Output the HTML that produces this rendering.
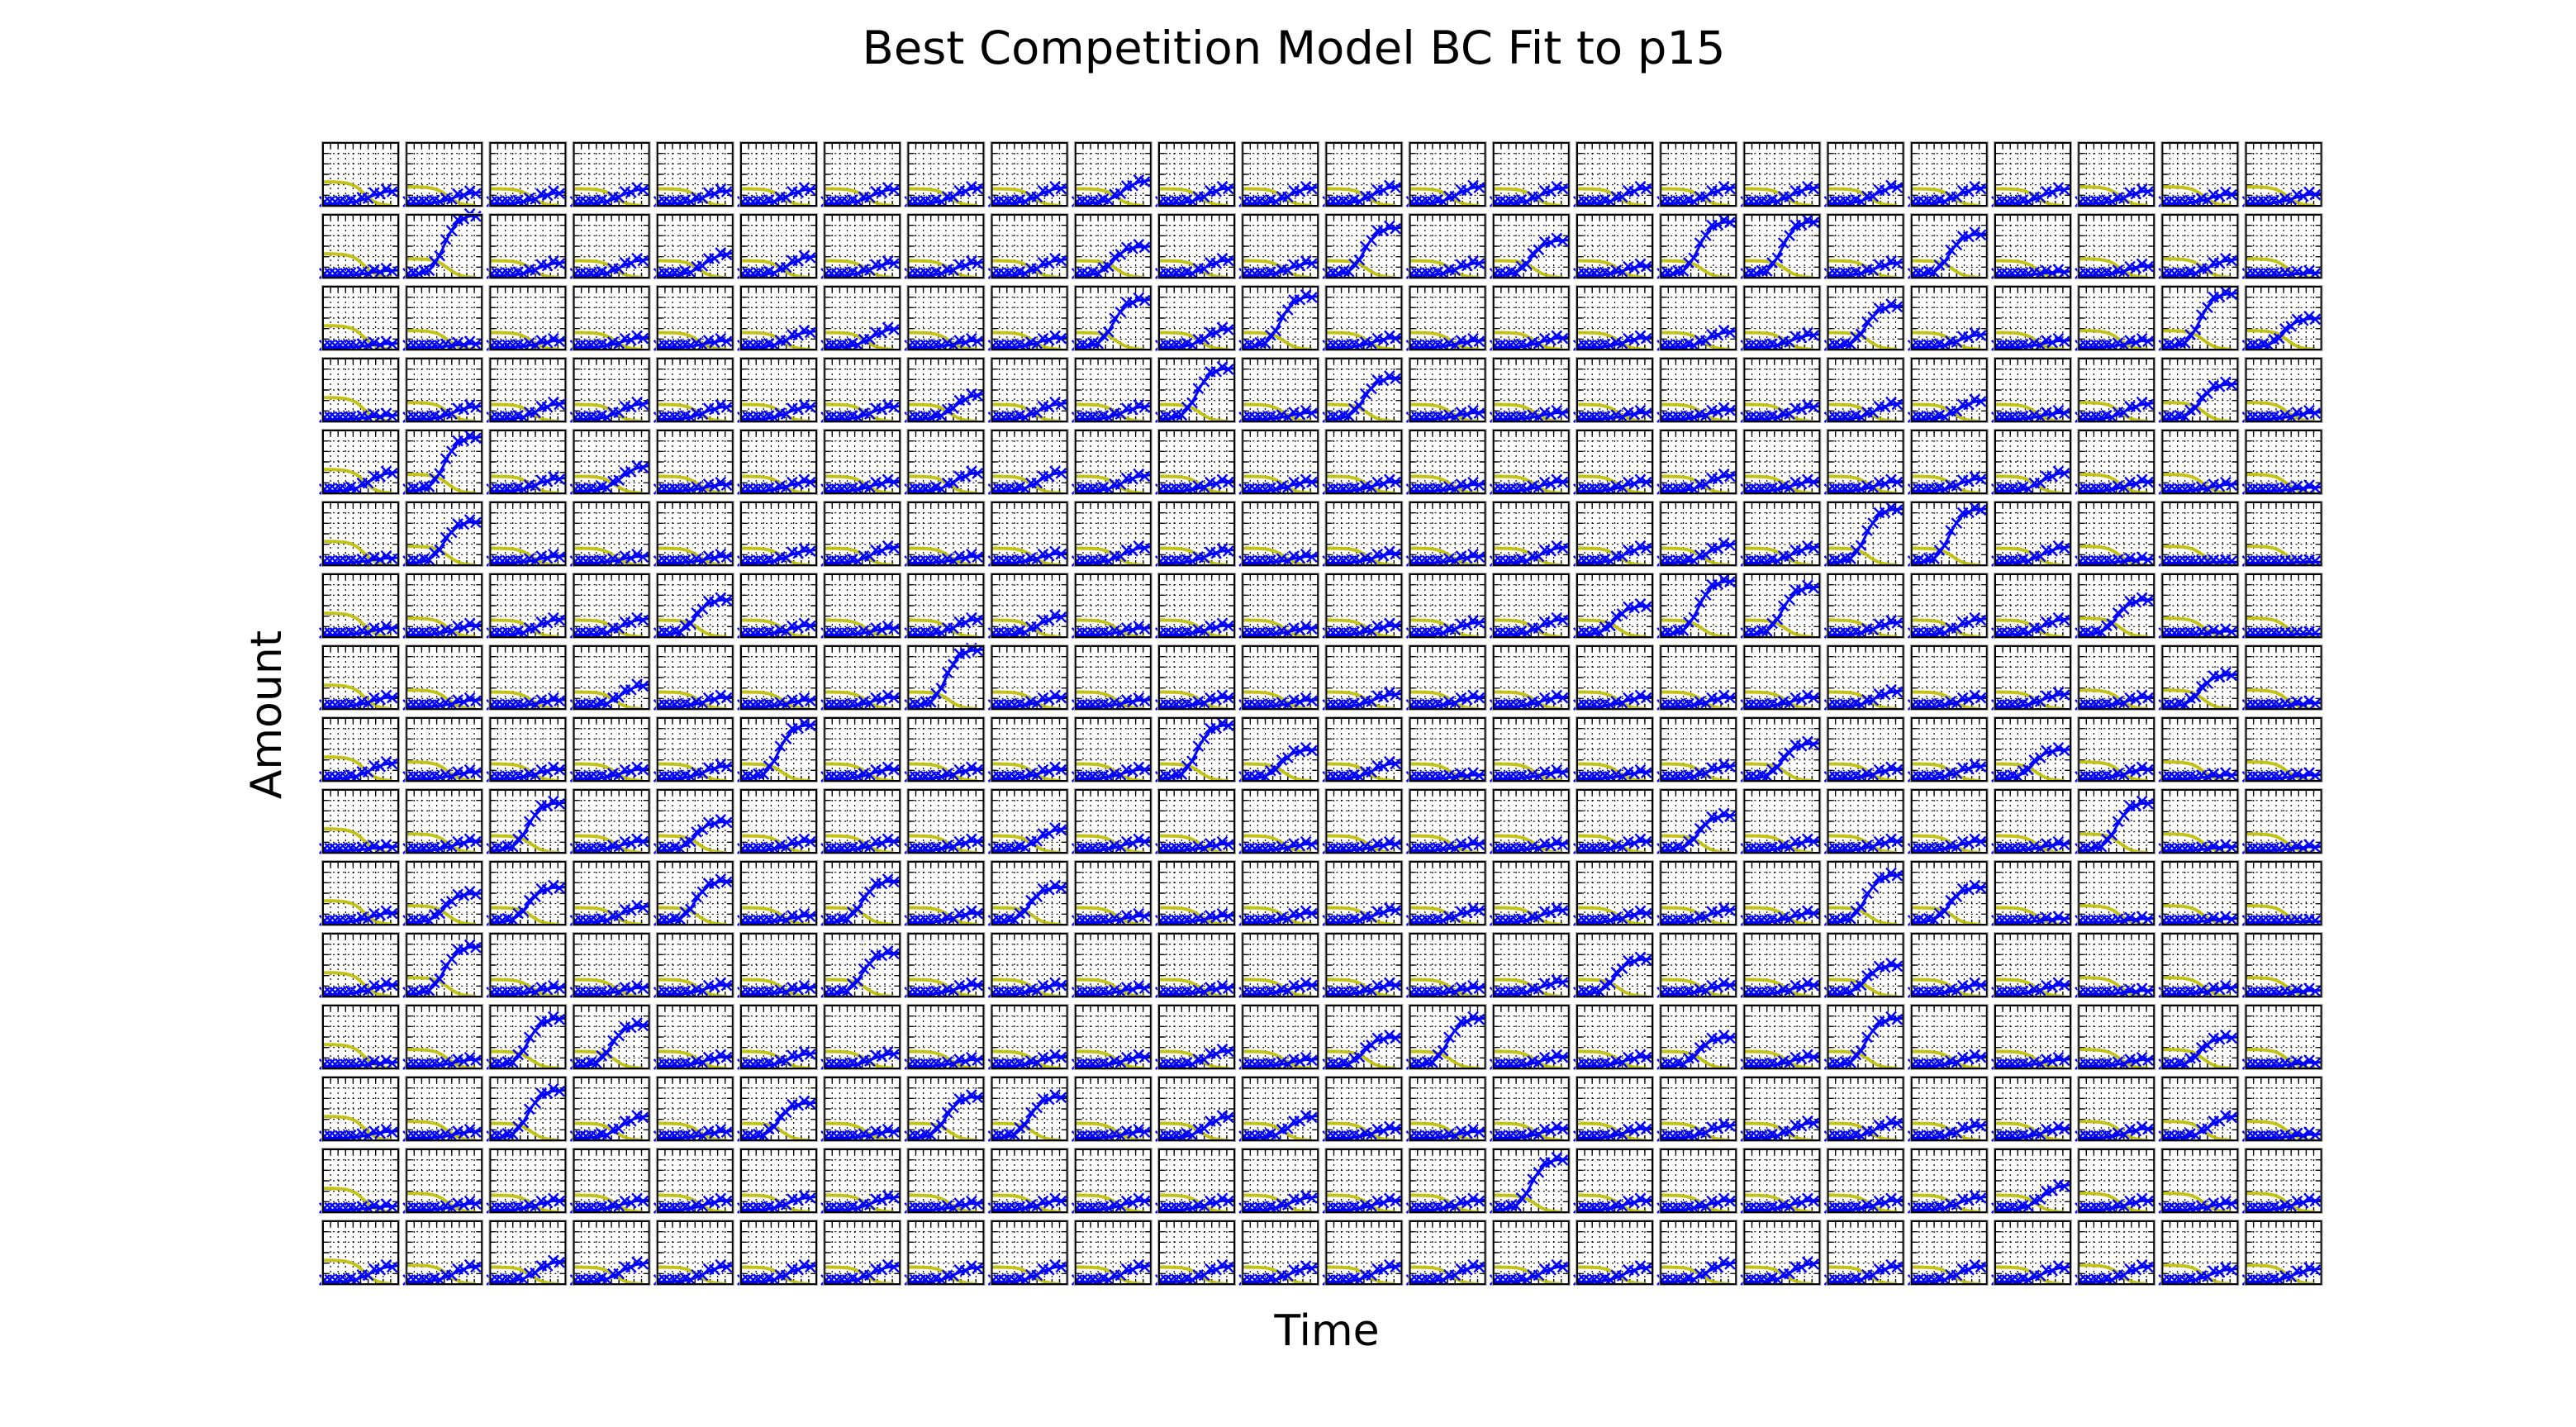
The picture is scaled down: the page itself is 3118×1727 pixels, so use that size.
<!DOCTYPE html>
<html><head><meta charset="utf-8"><style>
html,body{margin:0;padding:0;background:#fff;}
svg{display:block;}
text{font-family:"DejaVu Sans","Liberation Sans",sans-serif;fill:#000;}
</style></head><body>
<svg id="chart" width="3118" height="1727" viewBox="0 0 3118 1727" xmlns="http://www.w3.org/2000/svg">
<rect width="3118" height="1727" fill="#fff"/>
<text x="1566" y="77" font-size="55" text-anchor="middle" textLength="1045" lengthAdjust="spacingAndGlyphs">Best Competition Model BC Fit to p15</text>
<text x="0" y="0" font-size="52" text-anchor="middle" transform="translate(340,865) rotate(-90)">Amount</text>
<text x="1606" y="1628" font-size="52" text-anchor="middle">Time</text>
<g id="panels"></g>
</svg>
<script>
// Final blue amplitude per panel (fraction of y-range), rows top->bottom, 24 columns
const blueAmp = [
[0.25,0.22,0.22,0.28,0.25,0.28,0.28,0.3,0.3,0.42,0.3,0.3,0.32,0.32,0.3,0.3,0.3,0.3,0.32,0.3,0.28,0.25,0.2,0.2],
[0.12,1.0,0.25,0.3,0.4,0.35,0.25,0.25,0.3,0.5,0.3,0.25,0.8,0.25,0.6,0.2,0.9,0.9,0.25,0.7,0.1,0.2,0.3,0.08],
[0.1,0.1,0.15,0.2,0.15,0.3,0.35,0.15,0.2,0.8,0.35,0.85,0.2,0.15,0.2,0.2,0.3,0.25,0.7,0.25,0.15,0.15,0.9,0.5],
[0.1,0.25,0.3,0.3,0.25,0.25,0.25,0.45,0.3,0.25,0.85,0.15,0.7,0.15,0.15,0.15,0.2,0.25,0.3,0.35,0.15,0.3,0.6,0.15],
[0.35,0.9,0.25,0.45,0.15,0.2,0.2,0.35,0.35,0.3,0.2,0.2,0.2,0.15,0.2,0.2,0.3,0.2,0.2,0.25,0.35,0.2,0.15,0.1],
[0.12,0.7,0.15,0.15,0.15,0.25,0.3,0.15,0.2,0.3,0.25,0.15,0.2,0.15,0.3,0.3,0.35,0.3,0.9,0.9,0.3,0.1,0.05,0.05],
[0.15,0.2,0.3,0.3,0.6,0.2,0.15,0.3,0.35,0.15,0.2,0.15,0.2,0.25,0.3,0.5,0.9,0.8,0.25,0.3,0.3,0.6,0.1,0.05],
[0.2,0.15,0.15,0.4,0.2,0.15,0.2,0.95,0.2,0.15,0.2,0.15,0.25,0.2,0.2,0.2,0.2,0.2,0.3,0.2,0.25,0.2,0.55,0.1],
[0.3,0.15,0.2,0.2,0.25,0.9,0.2,0.2,0.2,0.2,0.9,0.5,0.3,0.1,0.15,0.15,0.25,0.6,0.2,0.25,0.5,0.2,0.1,0.1],
[0.1,0.2,0.8,0.2,0.5,0.2,0.2,0.2,0.4,0.2,0.15,0.15,0.15,0.15,0.15,0.2,0.6,0.2,0.2,0.2,0.15,0.8,0.1,0.1],
[0.2,0.5,0.6,0.3,0.7,0.15,0.7,0.2,0.6,0.15,0.15,0.2,0.25,0.25,0.25,0.2,0.25,0.2,0.8,0.6,0.1,0.1,0.1,0.05],
[0.2,0.8,0.15,0.15,0.2,0.15,0.7,0.2,0.2,0.15,0.15,0.2,0.2,0.15,0.25,0.6,0.2,0.2,0.5,0.2,0.2,0.1,0.15,0.1],
[0.1,0.15,0.8,0.7,0.2,0.25,0.25,0.15,0.2,0.2,0.3,0.15,0.5,0.8,0.2,0.2,0.5,0.2,0.8,0.2,0.15,0.15,0.5,0.1],
[0.15,0.15,0.8,0.4,0.15,0.6,0.15,0.7,0.7,0.15,0.4,0.4,0.2,0.15,0.2,0.2,0.25,0.3,0.3,0.25,0.2,0.2,0.4,0.1],
[0.1,0.15,0.2,0.2,0.2,0.25,0.25,0.15,0.2,0.2,0.2,0.25,0.2,0.2,0.85,0.2,0.2,0.2,0.2,0.25,0.45,0.2,0.15,0.2],
[0.3,0.3,0.38,0.35,0.3,0.3,0.3,0.28,0.3,0.3,0.3,0.28,0.3,0.3,0.3,0.28,0.35,0.35,0.3,0.3,0.28,0.3,0.25,0.25]
];
// Yellow starting level per column (fraction of y-range)
const yellowStart = [0.38,0.3,0.27,0.27,0.27,0.27,0.27,0.27,0.27,0.27,0.27,0.27,0.27,0.27,0.27,0.27,0.27,0.27,0.27,0.27,0.27,0.3,0.3,0.3];
const timePoints = [0.02,0.09,0.16,0.23,0.30,0.37,0.44,0.52,0.60,0.68,0.76,0.84,0.92];

const NS = "http://www.w3.org/2000/svg";
const g = document.getElementById('panels');
const X0 = 391, Y0 = 173, PX = 101.2, PY = 87.0, W = 91, H = 76;
function mk(tag, attrs, parent){const e=document.createElementNS(NS,tag);for(const k in attrs)e.setAttribute(k,attrs[k]);parent.appendChild(e);return e;}
function blue(t, amp){ const m = amp > 0.45 ? 0.5 : 0.62; return 0.03 + (amp-0.03)/(1+Math.exp(-(t-m)*(amp > 0.45 ? 11 : 9))); }
function yellow(t, y0){ return y0*(1 - 1/(1+Math.exp(-(t-0.55)*12))); }

for (let r = 0; r < blueAmp.length; r++) {
  for (let c = 0; c < blueAmp[r].length; c++) {
    const px = X0 + c*PX, py = Y0 + r*PY;
    const sx = t => px + t*W, sy = v => py + H - v*H;
    const p = mk('g', {}, g);
    
    
    let d = '';
    for (let i = 1; i < 10; i++) { const x = px + i*W/10; d += `M${x},${py}V${py+H}`; }
    for (let j = 1; j < 6; j++) { const y = py + j*H/6; d += `M${px},${y}H${px+W}`; }
    mk('path', {d:d, stroke:'#000', 'stroke-width':1.2, 'stroke-dasharray':'2,4', fill:'none'}, p);
    let tk = '';
    for (let i = 1; i < 10; i++) { const x = px + i*W/10; tk += `M${x},${py}v6M${x},${py+H}v-6`; }
    for (let j = 1; j < 6; j++) { const y = py + j*H/6; tk += `M${px},${y}h6M${px+W},${y}h-6`; }
    mk('path', {d:tk, stroke:'#000', 'stroke-width':1.4, fill:'none'}, p);
    let yd = '';
    for (let k = 0; k <= 40; k++) { const t = k/40*0.92; yd += (k?'L':'M') + sx(t).toFixed(1) + ',' + sy(yellow(t, yellowStart[c])).toFixed(1); }
    const yl = mk('path', {d:yd, stroke:'#bdbd00', 'stroke-width':4, fill:'none', 'stroke-opacity':0.9}, p);
    
    
    const amp = blueAmp[r][c];
    let bd = '';
    for (let k = 0; k <= 40; k++) { const t = k/40; bd += (k?'L':'M') + sx(t).toFixed(1) + ',' + sy(blue(t, amp)).toFixed(1); }
    const bl = mk('path', {d:bd, stroke:'#0000ff', 'stroke-width':3, fill:'none'}, p);
    
    
    let md = '';
    timePoints.forEach((t, i) => {
      const x = sx(t), y = Math.min(sy(blue(t, amp)) - (i % 2 ? 3 : -1), py + H - 5), s = 6;
      md += `M${x-s},${y-s}L${x+s},${y+s}M${x-s},${y+s}L${x+s},${y-s}`;
    });
    const mks = mk('path', {d:md, stroke:'#0000ff', 'stroke-width':2.4, fill:'none'}, p);
    
    
    mk('rect', {x:px, y:py, width:W, height:H, fill:'none', stroke:'#000', 'stroke-width':2}, p);
    mk('rect', {x:px-1.5, y:py-1.5, width:W+3, height:H+3, fill:'none', stroke:'#aaa', 'stroke-width':1}, p);
  }
}
</script>
</body></html>
